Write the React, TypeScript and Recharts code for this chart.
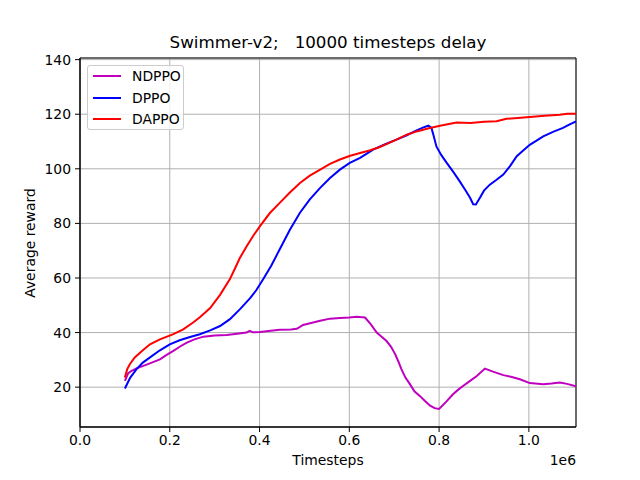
import { CartesianGrid, Line, LineChart, ReferenceArea, XAxis, YAxis } from "recharts";

const FONT = "'DejaVu Sans', sans-serif";

const ndppoSteps = [
  0.1, 0.107, 0.115, 0.128, 0.141, 0.16, 0.178, 0.193, 0.208, 0.223, 0.238, 0.255, 0.275, 0.3, 0.327, 0.35,
  0.371, 0.378, 0.385, 0.401, 0.425, 0.445, 0.47, 0.483, 0.497, 0.515, 0.535, 0.557, 0.579, 0.6, 0.616, 0.635,
  0.648, 0.661, 0.672, 0.683, 0.693, 0.702, 0.709, 0.716, 0.725, 0.735, 0.745, 0.757, 0.768, 0.78, 0.79, 0.8,
  0.815, 0.831, 0.842, 0.854, 0.869, 0.884, 0.902, 0.92, 0.943, 0.96, 0.98, 1.002, 1.032, 1.05, 1.069, 1.085, 1.105,
];
const ndppoReward = [
  22.3, 25.0, 26.0, 27.0, 27.8, 29.0, 30.2, 31.8, 33.3, 34.9, 36.3, 37.5, 38.5, 38.9, 39.1, 39.6,
  40.0, 40.6, 40.1, 40.2, 40.7, 41.0, 41.1, 41.4, 42.8, 43.5, 44.3, 45.1, 45.3, 45.5, 45.8, 45.5,
  43.0, 40.0, 38.5, 36.9, 34.8, 32.1, 29.5, 26.6, 23.5, 21.1, 18.5, 16.8, 15.0, 13.2, 12.3, 12.0,
  14.5, 17.4, 19.0, 20.5, 22.3, 24.1, 26.8, 25.7, 24.4, 23.8, 22.9, 21.5, 21.1, 21.3, 21.7, 21.2, 20.3,
];

const dppoSteps = [
  0.1, 0.112, 0.126, 0.14, 0.156, 0.178, 0.2, 0.222, 0.245, 0.267, 0.29, 0.312, 0.334, 0.356, 0.379, 0.393,
  0.408, 0.426, 0.445, 0.467, 0.49, 0.512, 0.535, 0.557, 0.579, 0.601, 0.624, 0.653, 0.68, 0.705, 0.728, 0.75,
  0.765, 0.776, 0.783, 0.788, 0.794, 0.805, 0.817, 0.832, 0.846, 0.858, 0.869, 0.876, 0.882, 0.891, 0.9, 0.913,
  0.928, 0.943, 0.958, 0.973, 0.988, 1.002, 1.017, 1.032, 1.055, 1.076, 1.09, 1.105,
];
const dppoReward = [
  19.5, 23.5, 26.6, 29.0, 30.9, 33.5, 35.7, 37.2, 38.4, 39.4, 40.8, 42.4, 44.9, 48.5, 52.6, 55.6,
  59.5, 64.5, 70.5, 77.5, 83.9, 88.8, 93.0, 96.6, 99.7, 102.2, 104.0, 107.0, 109.0, 110.7, 112.3, 114.1,
  115.2, 115.8, 115.0, 112.0, 108.2, 105.0, 102.2, 98.8, 95.4, 92.3, 89.4, 87.0, 86.9, 89.4, 92.0, 94.2,
  96.0, 97.9, 101.0, 104.6, 106.8, 108.8, 110.3, 111.9, 113.6, 115.0, 116.2, 117.4,
];

const dappoSteps = [
  0.1, 0.105, 0.111, 0.122, 0.14, 0.156, 0.178, 0.208, 0.23, 0.252, 0.267, 0.29, 0.312, 0.334, 0.345, 0.356,
  0.371, 0.386, 0.401, 0.423, 0.445, 0.467, 0.49, 0.512, 0.535, 0.557, 0.579, 0.602, 0.624, 0.645, 0.665, 0.685,
  0.705, 0.728, 0.75, 0.775, 0.802, 0.839, 0.87, 0.9, 0.928, 0.95, 0.975, 1.002, 1.035, 1.069, 1.085, 1.105,
];
const dappoReward = [
  23.5, 26.5, 28.4, 30.9, 33.5, 35.7, 37.5, 39.4, 41.2, 43.7, 45.6, 49.0, 53.8, 59.6, 63.4, 67.3,
  71.5, 75.5, 79.0, 83.8, 87.5, 91.2, 94.8, 97.5, 99.7, 101.8, 103.4, 104.8, 105.8, 106.7, 107.8, 109.2,
  110.7, 112.5, 113.7, 114.8, 115.8, 117.0, 116.8, 117.2, 117.4, 118.3, 118.6, 119.0, 119.4, 119.8, 120.2, 120.2,
];

const xTicks = [0, 200000, 400000, 600000, 800000, 1000000];
const yTicks = [20, 40, 60, 80, 100, 120, 140];

const toPoints = (steps: number[], rewards: number[]) =>
  steps.map((s, i) => ({ x: Math.round(s * 1e6), y: rewards[i] }));

const series = [
  { name: "NDPPO", color: "#bf00bf", data: toPoints(ndppoSteps, ndppoReward) },
  { name: "DPPO", color: "#0000ff", data: toPoints(dppoSteps, dppoReward) },
  { name: "DAPPO", color: "#ff0000", data: toPoints(dappoSteps, dappoReward) },
];

const X_MAX = 1105000;
const Y_MIN = 5.4;
const Y_MAX = 140.6;

export default function App() {
  const tick = { fill: "#000", fontSize: 13.9, fontFamily: FONT };
  return (
    <div style={{ position: "absolute", left: 0, top: 0, width: 640, height: 480, background: "#fff", fontFamily: FONT }}>
      <LineChart width={640} height={480} margin={{ top: 58, right: 64, left: 30, bottom: 23 }}>
        <CartesianGrid stroke="#b0b0b0" strokeWidth={1} />
        <XAxis
          type="number"
          dataKey="x"
          domain={[0, X_MAX]}
          ticks={xTicks}
          tickFormatter={(v: number) => (v / 1e6).toFixed(1)}
          allowDataOverflow
          height={30}
          tickSize={5}
          tickMargin={3}
          stroke="#000"
          tick={tick}
        />
        <YAxis
          type="number"
          domain={[Y_MIN, Y_MAX]}
          ticks={yTicks}
          allowDataOverflow
          width={50}
          tickSize={5}
          tickMargin={4}
          stroke="#000"
          tick={tick}
        />
        {series.map((s) => (
          <Line
            key={s.name}
            data={s.data}
            dataKey="y"
            name={s.name}
            type="linear"
            stroke={s.color}
            strokeWidth={2}
            dot={false}
            isAnimationActive={false}
          />
        ))}
        <ReferenceArea x1={0} x2={X_MAX} y1={Y_MIN} y2={Y_MAX} fill="none" stroke="#000" strokeWidth={1} />
      </LineChart>
      <div style={{ position: "absolute", left: 80, width: 496, top: 32, textAlign: "center", fontSize: 16.7, whiteSpace: "pre" }}>
        {"Swimmer-v2;   10000 timesteps delay"}
      </div>
      <div style={{ position: "absolute", left: 80, width: 496, top: 452, textAlign: "center", fontSize: 13.9 }}>
        Timesteps
      </div>
      <div style={{ position: "absolute", right: 64, top: 452, fontSize: 13.9 }}>1e6</div>
      <div
        style={{
          position: "absolute",
          left: 30,
          top: 243,
          fontSize: 13.9,
          whiteSpace: "nowrap",
          transform: "translate(-50%, -50%) rotate(-90deg)",
        }}
      >
        Average reward
      </div>
      <div
        style={{
          position: "absolute",
          left: 87,
          top: 65,
          width: 97,
          height: 65,
          border: "1px solid #cccccc",
          borderRadius: 3,
          background: "rgba(255,255,255,0.8)",
          boxSizing: "border-box",
        }}
      >
        {series.map((s, i) => (
          <div key={s.name} style={{ position: "absolute", left: 0, top: 1 + i * 21.6, height: 20, width: 97 }}>
            <div style={{ position: "absolute", left: 5, top: 8, width: 28, height: 2, background: s.color }} />
            <div style={{ position: "absolute", left: 44, top: 0, fontSize: 13.9, lineHeight: "18px" }}>{s.name}</div>
          </div>
        ))}
      </div>
    </div>
  );
}
